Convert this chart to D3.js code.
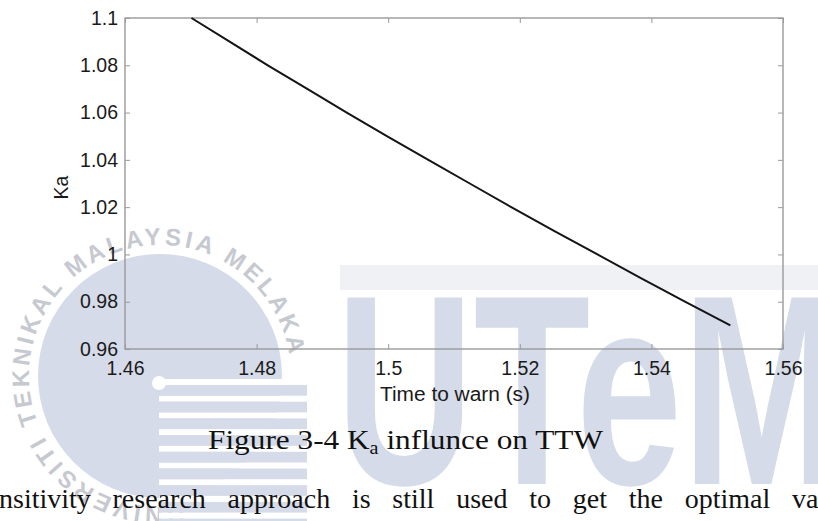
<!DOCTYPE html>
<html>
<head>
<meta charset="utf-8">
<script src="https://cdn.jsdelivr.net/npm/d3@7"></script>
<style>
  html, body { margin: 0; padding: 0; background: #ffffff; }
  svg { display: block; }
</style>
</head>
<body>
<svg id="fig" width="818" height="521"></svg>
<script>
// Ka against time to warn (TTW)
const kaValues  = [0.97, 0.98, 0.99, 1.00, 1.01, 1.02, 1.03, 1.04, 1.05, 1.06, 1.07, 1.08, 1.09, 1.10];
const ttwValues = [1.5520, 1.5451, 1.5384, 1.5318, 1.5252, 1.5187, 1.5124, 1.5061, 1.4998, 1.4937, 1.4877, 1.4817, 1.4759, 1.4701];

const xTicks = [1.46, 1.48, 1.5, 1.52, 1.54, 1.56];
const yTicks = [0.96, 0.98, 1, 1.02, 1.04, 1.06, 1.08, 1.1];
const xLabel = "Time to warn (s)";
const yLabel = "Ka";

const captionParts = ["Figure 3-4 K", "a", " influnce on TTW"];
const paragraphWords = ["nsitivity", "research", "approach", "is", "still", "used", "to", "get", "the", "optimal", "va"];
const sealText = "UNIVERSITI TEKNIKAL MALAYSIA MELAKA";
const logoText = "UTeM";

const svg = d3.select("#fig");
const W = 818, H = 521;
const wmBlue = "#d5dbe8";

// ---------- background watermark ----------
const wm = svg.append("g").attr("class", "watermark");

// seal disc
const seal = { cx: 160, cy: 376, r: 122, ringR: 140 };
wm.append("circle")
  .attr("cx", seal.cx).attr("cy", seal.cy).attr("r", seal.r)
  .attr("fill", wmBlue);

// lettering around the seal, running clockwise
const a0 = -190 * Math.PI / 180;
const pt = a => [seal.cx + seal.ringR * Math.sin(a), seal.cy - seal.ringR * Math.cos(a)];
const p0 = pt(a0), p1 = pt(a0 + Math.PI);
wm.append("path")
  .attr("id", "sealRing")
  .attr("fill", "none")
  .attr("d", `M${p0[0]},${p0[1]} A${seal.ringR},${seal.ringR} 0 0 1 ${p1[0]},${p1[1]} A${seal.ringR},${seal.ringR} 0 0 1 ${p0[0]},${p0[1]}`);
wm.append("text")
  .attr("font-family", "Liberation Sans, Arial, sans-serif")
  .attr("font-weight", "bold")
  .attr("font-size", 24)
  .attr("fill", "#c6c9d0")
  .attr("dominant-baseline", "central")
  .append("textPath")
  .attr("href", "#sealRing")
  .attr("textLength", 660)
  .attr("lengthAdjust", "spacing")
  .text(sealText);

// striped block
const stripes = d3.range(0, 9);
wm.selectAll("rect.stripe").data(stripes).join("rect")
  .attr("class", "stripe")
  .attr("x", 159).attr("width", 148)
  .attr("y", i => 379 + i * 16.7)
  .attr("height", 6)
  .attr("fill", "#ffffff");
wm.selectAll("rect.band").data(stripes).join("rect")
  .attr("class", "band")
  .attr("x", 159).attr("width", 148)
  .attr("y", i => 385 + i * 16.7)
  .attr("height", 10.7)
  .attr("fill", wmBlue);
wm.append("circle").attr("cx", 159).attr("cy", 383).attr("r", 7).attr("fill", "#ffffff");

// logotype
wm.append("rect").attr("x", 340).attr("y", 265).attr("width", W - 340).attr("height", 25).attr("fill", "#f0f1f4");
wm.append("text")
  .attr("x", 336).attr("y", 484)
  .attr("font-family", "Liberation Sans, Arial, sans-serif")
  .attr("font-weight", "bold")
  .attr("font-size", 271)
  .attr("textLength", 505)
  .attr("lengthAdjust", "spacingAndGlyphs")
  .attr("fill", wmBlue)
  .text(logoText);

// ---------- chart ----------
const margin = { left: 125, top: 18, right: W - 783, bottom: H - 349 };
const x = d3.scaleLinear().domain([1.46, 1.56]).range([margin.left, W - margin.right]);
const y = d3.scaleLinear().domain([0.96, 1.1]).range([H - margin.bottom, margin.top]);

const fmt = d => String(+d.toFixed(2));
const axisColor = "#9a9a9a";
const labelFont = "Liberation Sans, Arial, sans-serif";
const textColor = "#1a1a1a";

const chart = svg.append("g").attr("class", "chart");

// frame
chart.append("rect")
  .attr("x", x.range()[0]).attr("y", y.range()[1])
  .attr("width", x.range()[1] - x.range()[0])
  .attr("height", y.range()[0] - y.range()[1])
  .attr("fill", "none").attr("stroke", axisColor).attr("stroke-width", 1.4);

function styleAxis(g, showLabels) {
  g.select(".domain").remove();
  g.selectAll(".tick line").attr("stroke", axisColor).attr("stroke-width", 1);
  g.selectAll(".tick text")
    .attr("font-family", labelFont)
    .attr("font-size", 19.5)
    .attr("fill", textColor)
    .style("display", showLabels ? null : "none");
}

chart.append("g")
  .attr("transform", `translate(0,${y.range()[0]})`)
  .call(d3.axisBottom(x).tickValues(xTicks).tickFormat(fmt).tickSizeInner(-5).tickSizeOuter(0).tickPadding(12))
  .call(g => styleAxis(g, true));
chart.append("g")
  .attr("transform", `translate(0,${y.range()[1]})`)
  .call(d3.axisTop(x).tickValues(xTicks).tickSizeInner(-5).tickSizeOuter(0))
  .call(g => styleAxis(g, false));
chart.append("g")
  .attr("transform", `translate(${x.range()[0]},0)`)
  .call(d3.axisLeft(y).tickValues(yTicks).tickFormat(fmt).tickSizeInner(-5).tickSizeOuter(0).tickPadding(7))
  .call(g => styleAxis(g, true));
chart.append("g")
  .attr("transform", `translate(${x.range()[1]},0)`)
  .call(d3.axisRight(y).tickValues(yTicks).tickSizeInner(-5).tickSizeOuter(0))
  .call(g => styleAxis(g, false));

// curve
const pts = kaValues.map((k, i) => ({ ka: k, ttw: ttwValues[i] }));
chart.append("path")
  .datum(pts)
  .attr("fill", "none")
  .attr("stroke", "#141414")
  .attr("stroke-width", 2)
  .attr("stroke-linejoin", "round")
  .attr("d", d3.line().x(d => x(d.ttw)).y(d => y(d.ka)));

// axis titles
chart.append("text")
  .attr("x", (x.range()[0] + x.range()[1]) / 2 + 1).attr("y", 401)
  .attr("text-anchor", "middle")
  .attr("font-family", labelFont).attr("font-size", 19.5).attr("fill", textColor)
  .attr("textLength", 150).attr("lengthAdjust", "spacingAndGlyphs")
  .text(xLabel);
chart.append("text")
  .attr("transform", `translate(68,${(y.range()[0] + y.range()[1]) / 2 + 4}) rotate(-90)`)
  .attr("text-anchor", "middle")
  .attr("font-family", labelFont).attr("font-size", 19.5).attr("fill", textColor)
  .text(yLabel);

// ---------- caption ----------
const serif = "Liberation Serif, Times New Roman, serif";
const cap = svg.append("text")
  .attr("x", 208).attr("y", 449)
  .attr("font-family", serif).attr("font-size", 28).attr("fill", "#111")
  .attr("textLength", 395).attr("lengthAdjust", "spacingAndGlyphs");
cap.append("tspan").text(captionParts[0]);
cap.append("tspan").attr("font-size", 18).attr("dy", 5).text(captionParts[1]);
cap.append("tspan").attr("dy", -5).text(captionParts[2]);

// ---------- body text line (justified) ----------
const body = svg.append("g")
  .attr("font-family", serif).attr("font-size", 28).attr("fill", "#111");
const wordNodes = paragraphWords.map(w => body.append("text").attr("y", 508).text(w));
const widths = wordNodes.map(n => n.node().getComputedTextLength());
const startX = -1, lastX = 792;
const used = widths.slice(0, -1).reduce((a, b) => a + b, 0);
const gap = (lastX - startX - used) / (paragraphWords.length - 1);
let cursor = startX;
wordNodes.forEach((n, i) => { n.attr("x", cursor); cursor += widths[i] + gap; });
</script>
</body>
</html>
